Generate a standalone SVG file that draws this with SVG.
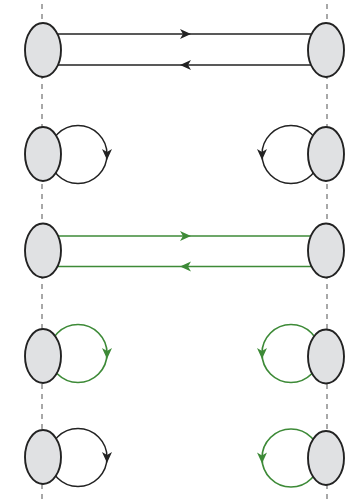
<svg xmlns="http://www.w3.org/2000/svg" xmlns:xlink="http://www.w3.org/1999/xlink" width="361" height="501" viewBox="0 0 361 501">
<style>
.axis{stroke:#7a7a7a;stroke-width:1.3;stroke-dasharray:5 5;fill:none}
.node{fill:#e0e1e3;stroke:#222;stroke-width:1.9}
.blk{stroke:#222;stroke-width:1.5;fill:none}
.grn{stroke:#3d8a37;stroke-width:1.7;fill:none}
.hb{fill:#222}
.hg{fill:#3d8a37}
</style>
<defs>
<path id="ah" d="M0,0 L-11,-5 L-8,0 L-11,5 Z"/>
</defs>
<rect width="361" height="501" fill="#fff"/>
<g id="axes">
<line class="axis" x1="42" y1="4" x2="42" y2="501"/>
<line class="axis" x1="327" y1="4" x2="327" y2="501"/>
</g>
<g id="connectors">
<line class="blk" x1="43" y1="34" x2="326" y2="34"/>
<use href="#ah" class="hb" transform="translate(191,34)"/>
<line class="blk" x1="43" y1="65" x2="326" y2="65"/>
<use href="#ah" class="hb" transform="translate(180,65) rotate(180)"/>
<circle class="blk" cx="78" cy="154.5" r="29"/>
<use href="#ah" class="hb" transform="translate(107,160) rotate(90)"/>
<circle class="blk" cx="291" cy="154.5" r="29"/>
<use href="#ah" class="hb" transform="translate(262,160) rotate(90)"/>
<line class="grn" x1="43" y1="236" x2="326" y2="236"/>
<use href="#ah" class="hg" transform="translate(191,236)"/>
<line class="grn" x1="43" y1="266.5" x2="326" y2="266.5"/>
<use href="#ah" class="hg" transform="translate(180,266.5) rotate(180)"/>
<circle class="grn" cx="78" cy="353.5" r="29"/>
<use href="#ah" class="hg" transform="translate(107,359) rotate(90)"/>
<circle class="grn" cx="291" cy="353.5" r="29"/>
<use href="#ah" class="hg" transform="translate(262,359) rotate(90)"/>
<circle class="blk" cx="78" cy="457.5" r="29"/>
<use href="#ah" class="hb" transform="translate(107,463) rotate(90)"/>
<circle class="grn" cx="291" cy="458" r="29"/>
<use href="#ah" class="hg" transform="translate(262,463.5) rotate(90)"/>
</g>
<g id="n1L"><ellipse class="node" cx="43" cy="50" rx="18" ry="27"/></g>
<g id="n1R"><ellipse class="node" cx="326" cy="50" rx="18" ry="27"/></g>
<g id="n2L"><ellipse class="node" cx="43" cy="154" rx="18" ry="27"/></g>
<g id="n2R"><ellipse class="node" cx="326" cy="154" rx="18" ry="27"/></g>
<g id="n3L"><ellipse class="node" cx="43" cy="250.5" rx="18" ry="27"/></g>
<g id="n3R"><ellipse class="node" cx="326" cy="250.5" rx="18" ry="27"/></g>
<g id="n4L"><ellipse class="node" cx="43" cy="356" rx="18" ry="27"/></g>
<g id="n4R"><ellipse class="node" cx="326" cy="356.5" rx="18" ry="27"/></g>
<g id="n5L"><ellipse class="node" cx="43" cy="457" rx="18" ry="27"/></g>
<g id="n5R"><ellipse class="node" cx="326" cy="458" rx="18" ry="27"/></g>
</svg>
